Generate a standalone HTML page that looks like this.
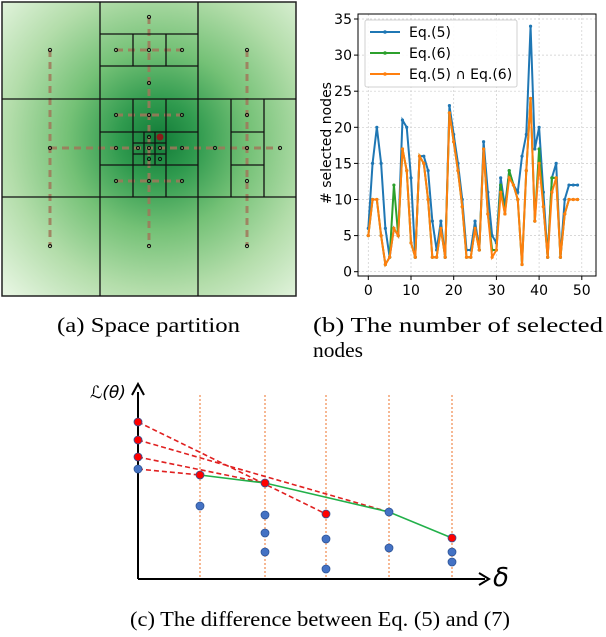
<!DOCTYPE html>
<html><head><meta charset="utf-8"><style>
body{margin:0;background:#fff;width:606px;height:632px;overflow:hidden}
svg text{font-family:"DejaVu Sans",sans-serif}
.cap{font-family:"Liberation Serif",serif;font-size:21px;fill:#000}
</style></head><body>
<svg id="root" width="606" height="632" xmlns="http://www.w3.org/2000/svg">
<defs>
<radialGradient id="rg" cx="158" cy="140" r="215" gradientUnits="userSpaceOnUse">
<stop offset="0" stop-color="#117a37"/><stop offset="0.18" stop-color="#2f9a4e"/>
<stop offset="0.42" stop-color="#74c176"/><stop offset="0.7" stop-color="#b3ddaa"/>
<stop offset="1" stop-color="#e6f5e1"/></radialGradient>
</defs>
<g id="pa">
<rect x="2" y="2" width="294" height="294" fill="url(#rg)" stroke="#222" stroke-width="1.5"/>
</g>
<g id="pb"></g>
<g id="pc"></g>
<text class="cap" x="57" y="332" textLength="183" lengthAdjust="spacingAndGlyphs">(a) Space partition</text>
<text class="cap" x="313" y="332" textLength="290" lengthAdjust="spacingAndGlyphs">(b)  The  number  of  selected</text>
<text class="cap" x="313" y="357" textLength="50" lengthAdjust="spacingAndGlyphs">nodes</text>
<text class="cap" x="130" y="626" textLength="380" lengthAdjust="spacingAndGlyphs">(c) The difference between Eq. (5) and  (7)</text>
</svg>
<script>
const NS="http://www.w3.org/2000/svg";
function mk(p,t,a){const e=document.createElementNS(NS,t);for(const k in a)e.setAttribute(k,a[k]);p.appendChild(e);return e;}
// ---- panel a
const pa=document.getElementById('pa');
const gridLines=[[100,2,100,296],[198,2,198,296],[2,99,296,99],[2,197,296,197],
[100,34,198,34],[100,66,198,66],[133,34,133,66],[166,34,166,66],
[100,132,198,132],[100,165,198,165],[133,99,133,197],[166,99,166,197],
[144,132,144,165],[155,132,155,165],[133,143,166,143],[133,154,166,154],
[231,99,231,197],[264,99,264,197],[231,132,264,132],[231,165,264,165]];
const dashes=[[50,50,50,246],[149,17,149,246],[247,50,247,246],[50,148,280,148],[116,50,182,50],[116,115,182,115],[116,181,182,181]];
dashes.forEach(d=>{const l=mk(pa,'line',{x1:d[0],y1:d[1],x2:d[2],y2:d[3],stroke:'#a0785a','stroke-width':3,'stroke-dasharray':'7,5',opacity:0.85});

});
gridLines.forEach(d=>{const l=mk(pa,'line',{x1:d[0],y1:d[1],x2:d[2],y2:d[3],stroke:'#111','stroke-width':1.3});

});
const nodes=[[50,50],[149,17],[247,50],[116,50],[149,50],[182,50],[149,83],[116,115],[149,115],[182,115],[50,148],[116,148],[138,148],[149,148],[160,148],[182,148],[215,148],[247,148],[280,148],[149,137],[160,137],[149,159],[160,159],[247,115],[247,181],[116,181],[149,181],[182,181],[50,246],[149,246],[247,246]];
nodes.forEach(n=>{const c=mk(pa,'circle',{cx:n[0],cy:n[1],r:1.6,fill:'none',stroke:'#111','stroke-width':1});

});
mk(pa,'circle',{cx:160,cy:137,r:3.5,fill:'#8b1a1a'});
// ---- panel b
const xs=[...Array(50).keys()];
const eq5=[6,15,20,15,6,2,6,5,21,20,13,2,16,16,14,7,3,7,2,23,19,15,10,3,3,7,3,18,11,5,4,13,9,14,12,11,16,19,34,17,20,11,2,13,15,2,10,12,12,12];
const eq6=[5,10,10,5,1,2,12,5,17,14,4,2,16,15,10,2,2,6,2,22,18,14,9,2,2,6,3,17,8,3,3,12,8,14,12,10,1,14,24,7,17,9,2,13,13,2,8,10,10,10];
const both=[5,10,10,5,1,2,6,5,17,14,4,2,16,15,10,2,2,6,2,22,18,14,9,2,2,6,3,17,8,2,3,11,8,13,12,10,1,14,24,7,15,9,2,11,13,2,8,10,10,10];
const xTicks=[0,10,20,30,40,50];
const yTicks=[0,5,10,15,20,25,30,35];
const X=v=>368.3+v*4.27, Y=v=>271.7-v*7.22;
const pb=document.getElementById('pb');
mk(pb,'rect',{x:358,y:14,width:238,height:262,fill:'#fff'});
xTicks.forEach(t=>{mk(pb,'line',{x1:X(t),x2:X(t),y1:14,y2:276,stroke:'#ccc','stroke-width':0.7,'stroke-dasharray':'2,2'});
mk(pb,'line',{x1:X(t),x2:X(t),y1:276,y2:280,stroke:'#000'});
const tx=mk(pb,'text',{x:X(t),y:295,'font-size':14,'text-anchor':'middle'});tx.textContent=t;

});
yTicks.forEach(t=>{mk(pb,'line',{x1:358,x2:596,y1:Y(t),y2:Y(t),stroke:'#ccc','stroke-width':0.7,'stroke-dasharray':'2,2'});
mk(pb,'line',{x1:354,x2:358,y1:Y(t),y2:Y(t),stroke:'#000'});
const tx=mk(pb,'text',{x:352,y:Y(t)+5,'font-size':14,'text-anchor':'end'});tx.textContent=t;

});
const yl=mk(pb,'text',{x:0,y:0,'font-size':14,'text-anchor':'middle',transform:'translate(331,143) rotate(-90)'});yl.textContent='# selected nodes';


const series=[[eq5,'#1f77b4','series-eq5'],[eq6,'#2ca02c','series-eq6'],[both,'#ff7f0e','series-intersection']];
series.forEach(s=>{const pl=mk(pb,'polyline',{points:xs.map(i=>X(i)+','+Y(s[0][i])).join(' '),fill:'none',stroke:s[1],'stroke-width':2});


xs.forEach(i=>{const c=mk(pb,'circle',{cx:X(i),cy:Y(s[0][i]),r:1.6,fill:s[1]});

});});
mk(pb,'rect',{x:358,y:14,width:238,height:262,fill:'none',stroke:'#000','stroke-width':1});
const lg=mk(pb,'g',{});
mk(lg,'rect',{x:365,y:20,width:152,height:67,fill:'#fff',stroke:'#ccc',rx:2,opacity:0.9});
['Eq.(5)','Eq.(6)','Eq.(5) ∩ Eq.(6)'].forEach((n,i)=>{const y=32+i*21;
mk(lg,'line',{x1:370,x2:400,y1:y,y2:y,stroke:series[i][1],'stroke-width':2});
mk(lg,'circle',{cx:385,cy:y,r:1.8,fill:series[i][1]});
const t=mk(lg,'text',{x:409,y:y+5,'font-size':14});t.textContent=n;

});
// ---- panel c
const pc=document.getElementById('pc');
[200,265,326,389,452].forEach(x=>mk(pc,'line',{x1:x,x2:x,y1:395,y2:579,stroke:'#f4a070','stroke-width':1.5,'stroke-dasharray':'2,2'}));
mk(pc,'line',{x1:138,y1:579,x2:138,y2:392,stroke:'#000','stroke-width':2});
mk(pc,'path',{d:'M132,395 L138,384 L144,395',fill:'none',stroke:'#000','stroke-width':2});
mk(pc,'line',{x1:138,y1:579,x2:485,y2:579,stroke:'#000','stroke-width':2});
mk(pc,'path',{d:'M479,573 L489,579 L479,585',fill:'none',stroke:'#000','stroke-width':2});
const lt=mk(pc,'text',{x:90,y:398,'font-size':17,'font-family':'Liberation Serif, serif','font-style':'italic'});lt.textContent='ℒ(θ)';

const dt=mk(pc,'text',{x:493,y:586,'font-size':26,'font-family':'Liberation Serif, serif','font-style':'italic'});dt.textContent='δ';

[[138,422,326,514],[138,440,389,512],[138,457,265,483],[138,469,200,475]].forEach(d=>mk(pc,'line',{x1:d[0],y1:d[1],x2:d[2],y2:d[3],stroke:'#e02020','stroke-width':1.6,'stroke-dasharray':'5,3'}));
mk(pc,'polyline',{points:'200,475 265,483 389,512 452,538',fill:'none',stroke:'#22b04a','stroke-width':1.6});
const blue=[[138,469],[200,506],[265,515],[265,533],[265,552],[326,539],[326,569],[389,512],[389,548],[452,552],[452,562]];
const red=[[138,422],[138,440],[138,457],[200,475],[265,483],[326,514],[452,538]];
blue.forEach(p=>{const c=mk(pc,'circle',{cx:p[0],cy:p[1],r:4,fill:'#4472c4',stroke:'#2f5597','stroke-width':0.8});
});
red.forEach(p=>{const c=mk(pc,'circle',{cx:p[0],cy:p[1],r:4,fill:'#ff0000',stroke:'#2f5597','stroke-width':0.8});
});
</script>
</body></html>
